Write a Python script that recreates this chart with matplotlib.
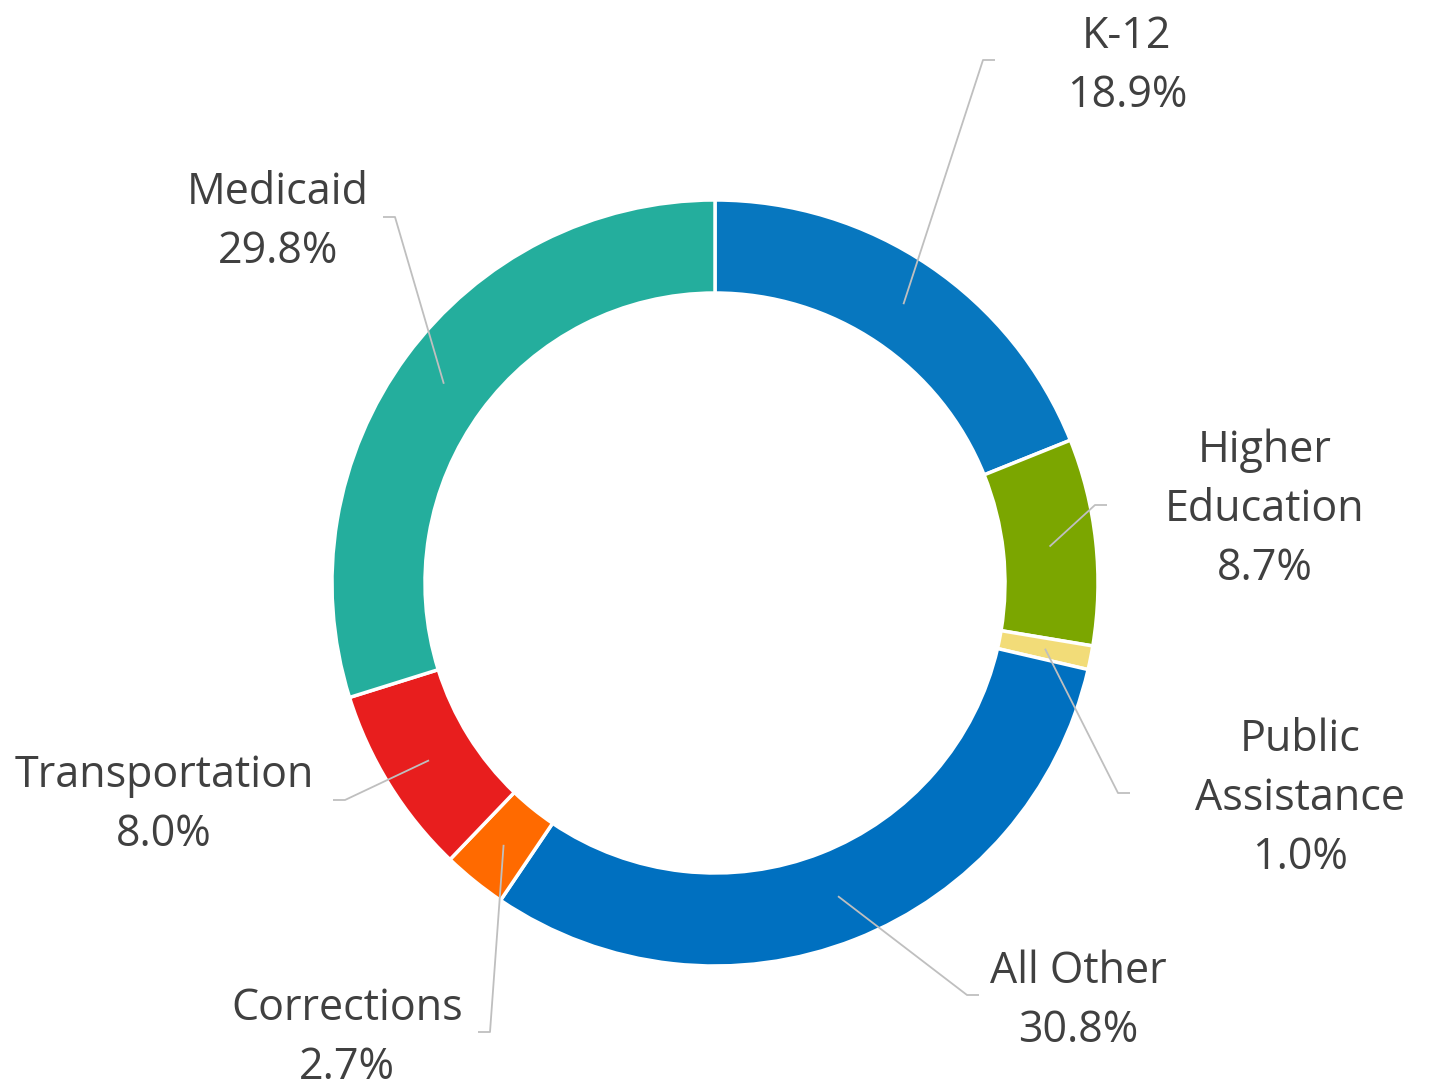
import numpy as np
import matplotlib.pyplot as plt

categories = ['K-12', 'Higher\nEducation', 'Public\nAssistance', 'All Other',
              'Corrections', 'Transportation', 'Medicaid']
shares = [18.9, 8.7, 1.0, 30.8, 2.7, 8.0, 29.8]
colors = ['#0777BF', '#7BA600', '#F2DC78', '#0070C0', '#FF6A00', '#E81E1E', '#24AE9D']

# label centre (px), elbow point (px), stub direction
label_pos = [(1127, 66), (1265, 510), (1300, 799), (1078, 1001),
             (347, 1038), (164, 805), (278, 222)]
elbows = [(983, 60), (1095, 505), (1118, 793), (967, 995),
          (490, 1032), (345, 800), (395, 217)]
stub_dir = [1, 1, 1, 1, -1, -1, -1]

W, H = 1435, 1089
cx, cy = 715, H - 583
R, ring = 383, 93

plt.rcParams['font.family'] = ['Open Sans', 'DejaVu Sans']
fig = plt.figure(figsize=(W / 100, H / 100), dpi=100)
ax = fig.add_axes([0, 0, 1, 1])
ax.set_aspect('equal')

wedges, _ = ax.pie(shares, colors=colors, startangle=90, counterclock=False,
                   radius=R, center=(cx, cy), frame=True,
                   wedgeprops=dict(width=ring, edgecolor='white', linewidth=2.5))
ax.set_xlim(0, W)
ax.set_ylim(0, H)
ax.axis('off')

rmid = R - ring / 2
for w, name, val, (lx, ly), (ex, ey), d in zip(wedges, categories, shares,
                                               label_pos, elbows, stub_dir):
    ang = np.deg2rad((w.theta1 + w.theta2) / 2)
    sx, sy = cx + rmid * np.cos(ang), cy + rmid * np.sin(ang)
    ey = H - ey
    ax.plot([sx, ex, ex + 12 * d], [sy, ey, ey], color='#BFBFBF', lw=1.3,
            solid_capstyle='butt')
    ax.text(lx, H - ly, f'{name}\n{val:.1f}%', ha='center', va='center',
            fontsize=31, color='#404040', linespacing=1.43)

fig.savefig('out.png', dpi=100)
